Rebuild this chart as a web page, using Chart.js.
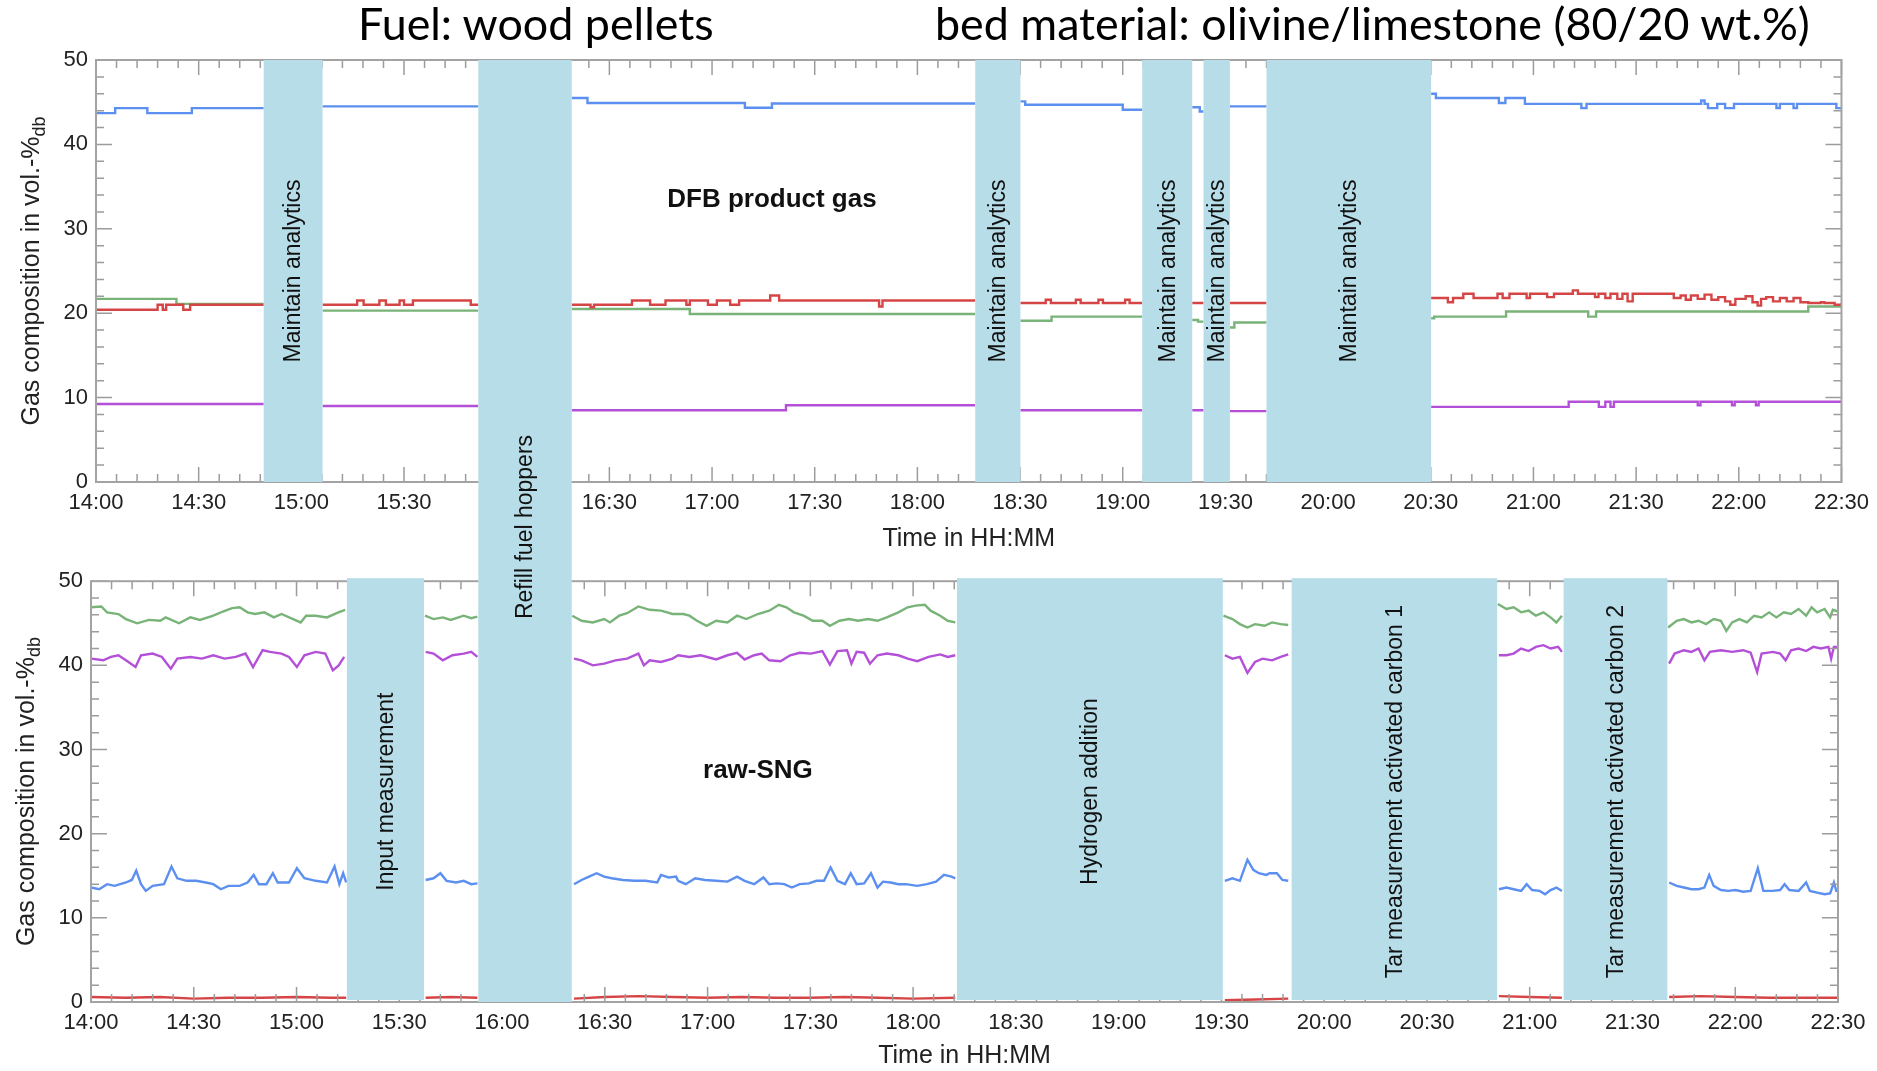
<!DOCTYPE html>
<html>
<head>
<meta charset="utf-8">
<script src="https://cdn.jsdelivr.net/npm/chart.js@4.4.1/dist/chart.umd.min.js"></script>
<style>
  html, body { margin: 0; padding: 0; background: #fff; }
  #page { position: relative; width: 1877px; height: 1071px; overflow: hidden; }
  #page canvas { position: absolute; left: 0; }
  .head {
    position: absolute; top: 1px; z-index: 2; white-space: nowrap; color: #000;
    font-family: Lato, 'Noto Sans', sans-serif; font-size: 44.8px; line-height: 44px;
  }
</style>
</head>
<body>
<div id="page">
  <div class="head" style="left:358px">Fuel: wood pellets</div>
  <div class="head" style="left:935px">bed material: olivine/limestone (80/20 wt.%)</div>
  <canvas id="dfb-gas" width="1877" height="560" style="top:0"></canvas>
  <canvas id="raw-sng" width="1877" height="511" style="top:560px"></canvas>
</div>
<script>
// time is in minutes after 14:00, values in vol.-% (dry basis)
// [minute, value]; a null value breaks the line during a band

// DFB product gas (upper panel), logged as steps
const dfbH2 = [[0,43.7],[5.6,44.3],[15,43.7],[28,44.3],[49,44.3],[49.5,null],
  [66.2,44.5],[111.7,44.5],[112,null],
  [139,45.5],[143.6,44.9],[189.6,44.35],[197.5,44.85],[256.9,44.85],[257.5,null],
  [270.1,45.1],[271.5,44.7],[300,44.1],[305.7,44.1],[306,null],
  [320.3,44.4],[322.5,43.9],[323.6,43.9],[324,null],
  [331.3,44.5],[342,44.5],[342.5,null],
  [390.1,46.0],[391.5,45.5],[409.9,44.9],[411.8,45.5],[417.5,44.8],[434,44.3],[435.5,44.8],
  [469,45.2],[470,44.8],[471,44.3],[473.7,44.8],[476,44.3],[478.6,44.8],[491,44.3],[492,44.8],
  [496,44.3],[497,44.8],[508.5,44.3],[510,44.3]];
const dfbCO = [[0,20.4],[18,21.0],[19.5,20.4],[20.5,21.0],[25.5,20.4],[27.5,21.0],[49,21.0],[49.5,null],
  [66.2,21.0],[76.3,21.5],[78.2,21.0],[82.8,21.5],[84.7,21.0],[88.7,21.5],[90,21.0],[92.6,21.5],
  [109.5,21.0],[111.7,21.0],[112,null],
  [139,21.0],[144.5,20.7],[145.5,21.0],[156.6,21.5],[161.9,21.0],[166.4,21.5],[172.5,21.0],[173.5,21.5],
  [178.8,21.0],[181.4,21.5],[185.3,21.0],[187.9,21.5],[197,22.1],[199.6,21.5],[228.8,20.8],[229.8,21.5],
  [256.9,21.5],[257.5,null],
  [270.1,21.2],[277.5,21.6],[279,21.2],[286.3,21.6],[287.7,21.2],[292.9,21.6],[294.2,21.2],[300.7,21.6],
  [302,21.2],[305.7,21.2],[306,null],
  [320.3,21.2],[323.6,21.2],[324,null],
  [331.3,21.2],[342,21.2],[342.5,null],
  [390.1,21.8],[395,21.3],[396.5,21.8],[399.5,22.3],[402.5,21.8],[409.5,22.3],[411,21.8],[413,22.3],
  [418,21.8],[419,22.3],[424,21.9],[426,22.3],[431.5,22.7],[433,22.3],[438,21.9],[439,22.3],[441,21.8],
  [442.5,22.3],[444.5,21.7],[446,22.3],[447.5,21.4],[449,22.3],[461,21.8],[463,22.1],[464.5,21.6],
  [466,22.1],[468,21.7],[470,22.2],[472,21.6],[474,21.9],[476,21.4],[477.5,21.0],[479,21.7],[482,22.0],
  [484,21.3],[485.5,20.9],[486.5,21.7],[488,21.9],[490,21.4],[492,21.8],[494,21.4],[496,21.8],
  [498,21.3],[500.3,21.2],[504,21.3],[505,21.2],[508,21.0],[510,21.2]];
const dfbCO2 = [[0,21.7],[23.5,21.1],[49,21.1],[49.5,null],
  [66.2,20.3],[111.7,20.3],[112,null],
  [139,20.5],[173.5,19.9],[256.9,19.9],[257.5,null],
  [270.1,19.1],[279.2,19.6],[305.7,19.6],[306,null],
  [320.3,19.2],[322,19.0],[323.6,19.0],[324,null],
  [331.3,18.3],[332.6,18.9],[342,18.9],[342.5,null],
  [390.1,19.4],[391,19.6],[412,20.2],[436,19.6],[438.3,20.2],[500.3,20.8],[510,20.8]];
const dfbCH4 = [[0,9.25],[49,9.25],[49.5,null],
  [66.2,9.0],[111.7,9.0],[112,null],
  [139,8.5],[201.6,9.1],[256.9,9.1],[257.5,null],
  [270.1,8.5],[305.7,8.5],[306,null],
  [320.3,8.5],[323.6,8.5],[324,null],
  [331.3,8.4],[342,8.4],[342.5,null],
  [390.1,8.9],[430.3,9.5],[439.1,8.9],[441,9.5],[442.5,8.9],[443.5,9.5],[468,9.1],[468.8,9.5],
  [478,9.1],[478.8,9.5],[485,9.1],[485.8,9.5],[510,9.5]];

// raw-SNG (lower panel)
const sngCO2 = [[0,46.9],[3,47.0],[4.7,46.3],[8,46.1],[10.2,45.5],[13.5,45.0],[16.9,45.4],[20.2,45.3],
  [21.8,45.7],[25.7,45.0],[29,45.7],[31.8,45.4],[35.7,45.9],[38.5,46.4],[41.2,46.8],[43.4,46.9],[45.7,46.3],
  [47.9,46.1],[50.6,46.3],[53.4,45.7],[55.6,46.1],[59,45.5],[61.2,45.1],[62.8,45.9],[65.6,45.9],[68.9,45.7],
  [72.2,46.3],[74.2,46.6],[75,null],
  [97.5,45.9],[100,45.5],[102.7,45.7],[105,45.4],[108.8,45.9],[111,45.6],[112.8,45.8],[113.5,null],
  [140.5,45.9],[143.2,45.3],[146.5,45.1],[149.8,45.5],[151.5,45.1],[154.2,45.9],[156.5,46.2],[159.8,47.0],
  [163.1,46.6],[166.4,46.5],[169.8,46.1],[172.9,46.1],[174.7,45.9],[176.9,45.3],[179.7,44.7],[182.5,45.3],
  [185.8,45.1],[188.6,45.9],[191.3,45.5],[194.7,46.1],[198,46.5],[200.8,47.2],[203,46.9],[205.2,46.3],
  [208,45.9],[210.7,45.3],[213.5,45.3],[215.7,44.7],[218.5,45.3],[221.3,45.5],[224,45.3],[226.8,45.5],
  [229.6,45.3],[232.3,45.7],[235.7,46.3],[238.4,46.9],[240.7,47.1],[243.4,47.2],[245.1,46.5],[247.9,45.9],
  [250.1,45.3],[252.3,45.1],[253,null],
  [330.6,45.9],[333.2,45.5],[335.4,44.9],[337.6,44.5],[339.8,44.9],[342.6,44.7],[344.8,45.1],[347.3,44.9],
  [349.5,44.8],[350.5,null],
  [410.7,47.3],[413.2,46.7],[415.3,46.9],[417.5,46.3],[419.7,46.5],[421.8,45.9],[424,46.3],[426.1,45.7],
  [427.8,45.1],[429.4,45.9],[430,null],
  [460.4,44.5],[462.9,45.3],[465,45.5],[467.2,45.1],[469.3,45.3],[471.5,44.9],[473.7,45.5],[475.8,45.3],
  [477.4,44.1],[479.1,45.1],[481.2,45.5],[483.4,45.1],[485.5,45.9],[487.7,45.7],[489.9,46.3],[492,45.7],
  [494.2,46.3],[496.3,46.1],[498.5,46.7],[500.7,45.9],[502.3,46.9],[503.9,46.3],[506.1,46.7],[507.7,45.7],
  [508.5,46.6],[510,46.4]];
const sngCH4 = [[0,40.8],[3.6,40.6],[5.8,41.0],[8,41.2],[10.2,40.6],[13,39.8],[14.6,41.2],[18,41.4],
  [20.7,41.0],[23.3,39.6],[25.2,40.8],[29,41.0],[32.4,40.8],[35.7,41.2],[39,40.8],[42.3,41.0],[45.1,41.4],
  [47.3,39.8],[50.1,41.8],[52.3,41.6],[55.6,41.4],[57.8,41.0],[60.1,39.8],[62.3,41.2],[65.6,41.6],
  [68.4,41.4],[70.6,39.4],[72.3,40.0],[73.9,41.0],[75,null],
  [97.7,41.6],[100,41.4],[102.7,40.6],[105.5,41.2],[108.8,41.4],[111,41.6],[112.8,41.0],[113.5,null],
  [141,40.8],[143.2,40.6],[146.5,40.0],[149.8,40.2],[153.1,40.6],[156.5,40.8],[159.8,41.4],[161.4,40.0],
  [163.1,40.6],[166.4,40.4],[169.8,40.8],[171.4,41.2],[174.7,41.0],[178,41.2],[182.5,40.7],[185.8,41.2],
  [188.6,41.5],[190.8,40.7],[193.6,41.2],[195.8,41.4],[198,40.6],[201.3,40.5],[204.1,41.2],[206.9,41.5],
  [210.2,41.4],[213.5,41.7],[215.7,40.1],[217.9,41.7],[220.7,41.8],[222,40.2],[223.5,41.6],[225.7,41.5],
  [227.4,40.2],[229.6,41.2],[232.3,41.4],[235.7,41.2],[238.4,40.8],[241.2,40.5],[244.5,41.0],[247.9,41.3],
  [250.1,41.0],[252.3,41.2],[253,null],
  [331,41.2],[333.2,40.8],[335.4,41.0],[337.6,39.1],[339.8,40.4],[342,40.8],[344.8,40.6],[347.3,41.0],
  [349.5,41.3],[350.5,null],
  [411,41.2],[413.2,41.2],[415.3,41.4],[417.5,42.0],[419.7,41.7],[421.8,42.2],[424,42.4],[426.1,42.0],
  [428.3,42.2],[429.4,41.6],[430,null],
  [460.7,40.2],[462.3,41.4],[465,41.8],[467.2,41.6],[469.3,42.0],[471,40.6],[472.6,41.6],[475.8,41.8],
  [479.1,41.6],[482.3,41.8],[484.5,41.5],[486.4,39.2],[487.7,41.4],[491,41.6],[493.1,41.4],[494.7,40.6],
  [496.3,41.8],[498.5,42.0],[500.7,41.7],[502.8,42.2],[505,42.0],[507.2,42.2],[508,40.8],[508.8,42.2],
  [510,42.2]];
const sngH2 = [[0,13.6],[2.4,13.4],[4.7,14.0],[6.9,13.8],[10.2,14.2],[11.9,14.5],[13.2,15.6],[14.6,14.0],
  [16,13.2],[18,13.8],[21.3,14.0],[23.5,16.1],[25.2,14.7],[27.9,14.4],[30.7,14.4],[33.5,14.2],[35.7,14.0],
  [37.9,13.4],[40.1,13.8],[43.4,13.8],[45.7,14.2],[47.5,15.1],[49,14.0],[51.2,14.0],[53.1,15.3],[54.5,14.2],
  [57.8,14.2],[60.1,15.9],[62.3,14.7],[65.6,14.4],[68.9,14.2],[71.1,16.1],[72.5,14.0],[73.6,15.3],
  [74.5,14.2],[75,null],
  [97.7,14.5],[100,14.7],[102,15.3],[103.8,14.4],[106.6,14.2],[108.8,14.4],[111,14.0],[112.8,14.1],[113.5,null],
  [141,14.0],[143.2,14.5],[145.4,14.9],[147.6,15.3],[149.8,14.9],[152,14.7],[155.3,14.5],[158.6,14.4],
  [161.9,14.4],[165.3,14.2],[166.4,15.1],[168.6,14.8],[170.8,14.9],[171.4,14.4],[173.6,14.0],[176.4,14.7],
  [179.2,14.5],[182.5,14.4],[185.8,14.3],[188.6,14.9],[190.8,14.4],[193.6,14.0],[196.3,14.8],[198,14.0],
  [200.2,14.1],[202.4,14.0],[204.6,13.6],[206.9,14.0],[209.6,14.1],[211.8,14.4],[214,14.4],[215.9,16.0],
  [217.9,14.4],[220.1,14.0],[221.8,15.3],[223.5,14.0],[225.7,14.1],[227.7,15.3],[229.6,13.6],[231.2,14.3],
  [233.4,14.2],[235.7,14.0],[237.9,14.0],[241.2,13.8],[244,14.0],[246.7,14.3],[249,15.1],[251.2,14.9],
  [252.3,14.7],[253,null],
  [331,14.4],[333.2,14.7],[335.4,14.4],[337.6,16.9],[339.3,15.7],[340.9,15.3],[343.1,15.1],[344.1,15.3],
  [346.2,15.3],[347.8,14.5],[349.5,14.4],[350.5,null],
  [411,13.4],[413.2,13.6],[415.3,13.4],[417.5,13.2],[419.1,14.0],[420.7,13.3],[422.9,13.2],[424.5,12.8],
  [426.1,13.3],[427.8,13.6],[429.4,13.2],[430,null],
  [460.7,14.2],[462.9,13.8],[465,13.6],[467.2,13.4],[469.3,13.4],[471,13.6],[472.4,15.1],[473.7,13.8],
  [475.8,13.3],[478,13.2],[480.1,13.3],[482.3,13.1],[484.5,13.2],[486.6,15.9],[488.2,13.2],[490.9,13.2],
  [493.1,13.3],[494.4,14.0],[495.8,13.3],[498.5,13.2],[500.7,14.2],[501.8,13.2],[503.9,13.0],[506.1,12.8],
  [507.7,12.9],[508.8,14.2],[509.5,13.2],[510,13.2]];
const sngCO = [[0,0.6],[10,0.5],[20,0.6],[30,0.4],[40,0.5],[50,0.5],[60,0.6],[70,0.5],[74.5,0.5],[75,null],
  [97.7,0.5],[105,0.6],[112.8,0.5],[113.5,null],
  [141,0.4],[150,0.6],[160,0.7],[170,0.6],[180,0.5],[190,0.6],[200,0.5],[210,0.5],[220,0.6],[230,0.5],
  [240,0.4],[252.3,0.5],[253,null],
  [331,0.2],[340,0.3],[349.5,0.4],[350.5,null],
  [411,0.7],[420,0.6],[429.4,0.5],[430,null],
  [460.7,0.6],[470,0.7],[480,0.6],[490,0.5],[500,0.5],[510,0.5]];

// interruptions [start, end] in minutes after 14:00
const dfbBands = [[49.0, 66.2], [256.9, 270.1], [305.7, 320.3], [323.6, 331.3], [342.0, 390.1]];
const dfbBandLabels = ['Maintain analytics', 'Maintain analytics', 'Maintain analytics', 'Maintain analytics', 'Maintain analytics'];
const sngBands = [[74.7, 97.2], [252.8, 330.4], [350.5, 410.5], [429.9, 460.2]];
const sngBandLabels = ['Input measurement', 'Hydrogen addition', 'Tar measurement activated carbon 1', 'Tar measurement activated carbon 2'];
const refillBand = [111.7, 139.0];
const refillLabel = 'Refill fuel hoppers';

const FONT = "'Liberation Sans', Arial, Helvetica, sans-serif";
const BAND_FILL = '#b7dde8';
const REFILL_LABEL_Y = 527; // page px
Chart.defaults.font.family = FONT;
Chart.defaults.color = '#222';

const charts = {};
const hhmm = m => `${14 + Math.floor(m / 60)}:${String(Math.round(m % 60)).padStart(2, '0')}`;
const toXY = rows => rows.map(([x, y]) => ({ x, y }));

function verticalText(ctx, text, cx, cy, font) {
  ctx.save();
  ctx.translate(cx, cy);
  ctx.rotate(-Math.PI / 2);
  ctx.font = font;
  ctx.textAlign = 'center';
  ctx.textBaseline = 'middle';
  ctx.fillText(text, 0, 0);
  ctx.restore();
}

function panelPlugin(p) {
  return {
    id: 'panelFrame',
    afterDatasetsDraw(chart) {
      const { ctx, chartArea: a, scales: { x, y } } = chart;
      ctx.save();
      ctx.strokeStyle = '#9c9c9c';
      ctx.lineWidth = 1.5;
      ctx.beginPath();
      for (let m = 0; m <= 510; m += 6) {
        const px = x.getPixelForValue(m);
        const len = m % 30 === 0 ? 15 : 8;
        ctx.moveTo(px, a.top); ctx.lineTo(px, a.top + len);
        ctx.moveTo(px, a.bottom); ctx.lineTo(px, a.bottom - len);
      }
      for (let v = 0; v <= 50; v += 2) {
        const py = y.getPixelForValue(v);
        const len = v % 10 === 0 ? 16 : 8;
        ctx.moveTo(a.left, py); ctx.lineTo(a.left + len, py);
        ctx.moveTo(a.right, py); ctx.lineTo(a.right - len, py);
      }
      ctx.stroke();
      ctx.strokeStyle = '#a3a3a3';
      ctx.lineWidth = 2;
      ctx.strokeRect(a.left, a.top, a.right - a.left, a.bottom - a.top);
      ctx.restore();
    },
    afterDraw(chart) {
      const { ctx, chartArea: a, scales: { x, y } } = chart;
      ctx.save();
      ctx.fillStyle = BAND_FILL;
      p.bands.forEach(([t0, t1]) => {
        const x0 = x.getPixelForValue(t0), x1 = x.getPixelForValue(t1);
        ctx.fillRect(x0, a.top - p.bandLift, x1 - x0, a.bottom - a.top + p.bandLift - p.bandDrop);
      });
      // the refill band runs through both panels, placed by the upper time axis
      const rx = (charts.top || chart).scales.x;
      const r0 = rx.getPixelForValue(refillBand[0]), r1 = rx.getPixelForValue(refillBand[1]);
      const ry0 = p.refillDown ? a.top : 0;
      const ry1 = p.refillDown ? chart.height : a.bottom;
      ctx.fillRect(r0, ry0, r1 - r0, ry1 - ry0);

      ctx.fillStyle = '#111';
      const bandFont = `23px ${FONT}`;
      p.bands.forEach(([t0, t1], i) => {
        const cx = (x.getPixelForValue(t0) + x.getPixelForValue(t1)) / 2;
        verticalText(ctx, p.bandLabels[i], cx + 1, y.getPixelForValue(25), bandFont);
      });
      verticalText(ctx, refillLabel, (r0 + r1) / 2 + 1, REFILL_LABEL_Y - p.offsetY, bandFont);

      ctx.font = `bold 26px ${FONT}`;
      ctx.textAlign = 'center';
      ctx.textBaseline = 'middle';
      ctx.fillText(p.note[0], x.getPixelForValue(p.note[1]), y.getPixelForValue(p.note[2]));

      // y title with subscript
      ctx.translate(a.left - 66, (a.top + a.bottom) / 2);
      ctx.rotate(-Math.PI / 2);
      ctx.fillStyle = '#222';
      ctx.textAlign = 'left';
      ctx.textBaseline = 'alphabetic';
      const main = 'Gas composition in vol.-%', sub = 'db';
      ctx.font = `25px ${FONT}`;
      const wMain = ctx.measureText(main).width;
      ctx.font = `18px ${FONT}`;
      const wSub = ctx.measureText(sub).width;
      const start = -(wMain + wSub) / 2;
      ctx.font = `25px ${FONT}`;
      ctx.fillText(main, start, 9);
      ctx.font = `18px ${FONT}`;
      ctx.fillText(sub, start + wMain, 15);
      ctx.restore();
    }
  };
}

function buildPanel(canvasId, p) {
  return new Chart(document.getElementById(canvasId), {
    type: 'line',
    data: {
      datasets: p.series.map(s => ({
        label: s.label,
        data: toXY(s.rows),
        borderColor: s.color,
        borderWidth: 2.4,
        pointRadius: 0,
        stepped: p.stepped,
        tension: 0,
        spanGaps: false,
      })),
    },
    options: {
      responsive: false,
      animation: false,
      devicePixelRatio: 1,
      events: [],
      layout: { padding: p.padding },
      plugins: { legend: { display: false }, tooltip: { enabled: false } },
      scales: {
        x: {
          type: 'linear', min: 0, max: 510,
          grid: { display: false, drawTicks: false },
          border: { display: false },
          ticks: { stepSize: 30, autoSkip: false, maxRotation: 0, padding: 8, color: '#222', font: { size: 22 }, callback: v => hhmm(v) },
          title: { display: true, text: 'Time in HH:MM', color: '#222', font: { size: 25 }, padding: { top: 0, bottom: p.xTitlePad } },
          afterFit: s => { s.height = p.xAxisHeight; },
        },
        y: {
          min: 0, max: 50,
          grid: { display: false, drawTicks: false },
          border: { display: false },
          ticks: { stepSize: 10, padding: 8, color: '#222', font: { size: 22 } },
          afterFit: s => { s.width = p.yAxisWidth; },
        },
      },
    },
    plugins: [panelPlugin(p)],
  });
}

charts.top = buildPanel('dfb-gas', {
  series: [
    { label: 'CO', rows: dfbCO, color: '#d64545' },
    { label: 'CO2', rows: dfbCO2, color: '#78b378' },
    { label: 'CH4', rows: dfbCH4, color: '#b450d8' },
    { label: 'H2', rows: dfbH2, color: '#5b8ff0' },
  ],
  stepped: true,
  bands: dfbBands, bandLabels: dfbBandLabels, bandLift: 0, bandDrop: 0,
  refillDown: true, offsetY: 0,
  note: ['DFB product gas', 197.5, 33.4],
  padding: { top: 60, right: 35, bottom: 0, left: 0 },
  yAxisWidth: 96, xAxisHeight: 78, xTitlePad: 6,
});

charts.bottom = buildPanel('raw-sng', {
  series: [
    { label: 'CO', rows: sngCO, color: '#d64545' },
    { label: 'CO2', rows: sngCO2, color: '#78b378' },
    { label: 'CH4', rows: sngCH4, color: '#b450d8' },
    { label: 'H2', rows: sngH2, color: '#5b8ff0' },
  ],
  stepped: false,
  bands: sngBands, bandLabels: sngBandLabels, bandLift: 3, bandDrop: 2,
  refillDown: false, offsetY: 560,
  note: ['raw-SNG', 194.7, 27.5],
  padding: { top: 17, right: 39, bottom: 0, left: 0 },
  yAxisWidth: 91, xAxisHeight: 69, xTitlePad: 0,
});
</script>
</body>
</html>
